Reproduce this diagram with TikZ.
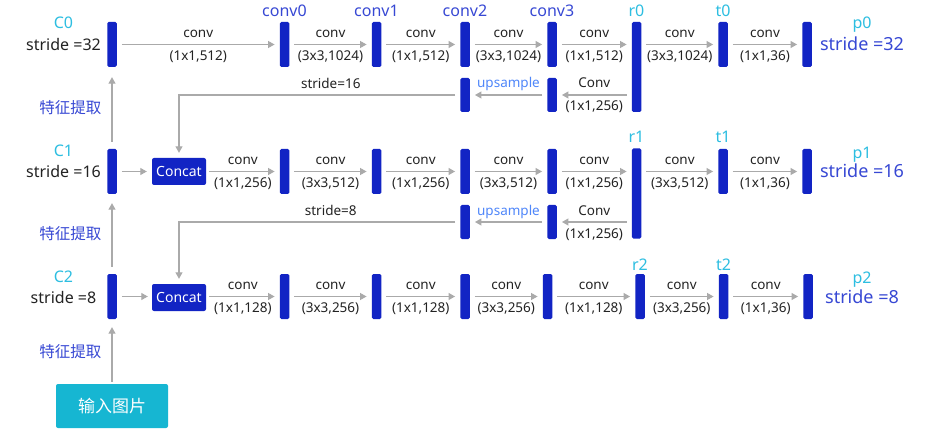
\documentclass[tikz,border=0pt]{standalone}
\usepackage{fontspec}
\setmainfont{Noto Sans}
\newfontfamily\cjk{Noto Sans CJK SC}
\usetikzlibrary{arrows.meta,calc}
\definecolor{barblue}{RGB}{18,36,196}
\definecolor{cyantxt}{RGB}{45,190,225}
\definecolor{nameblue}{RGB}{55,72,212}
\definecolor{upblue}{RGB}{80,135,250}
\definecolor{inputcyan}{RGB}{22,182,210}
\definecolor{arrgray}{RGB}{170,170,170}
\definecolor{txtblack}{RGB}{35,35,35}
\tikzset{
  bar/.style={rectangle, fill=barblue, draw=none, rounded corners=1.5pt, minimum width=9.5pt, minimum height=45pt, inner sep=0pt},
  tallbar/.style={bar, minimum height=90pt},
  upbar/.style={bar, minimum height=34pt},
  concatbox/.style={rectangle, fill=barblue, rounded corners=2pt, minimum width=54pt, minimum height=27pt, inner sep=0pt, text=white, font=\fontsize{14}{16}\selectfont},
  inputbox/.style={rectangle, fill=inputcyan, rounded corners=2pt, minimum width=112pt, minimum height=44pt, inner sep=0pt, text=white, font=\cjk\fontsize{17}{19}\selectfont},
  arr/.style={draw=arrgray, line width=1.1pt, -{Triangle[length=6.5pt,width=7pt]}, shorten <=5pt, shorten >=5pt},
  toplbl/.style={midway, anchor=base, yshift=7pt, inner sep=0pt, text=txtblack, font=\fontsize{13.5}{16}\selectfont},
  botlbl/.style={midway, anchor=base, yshift=-16pt, inner sep=0pt, text=txtblack, font=\fontsize{13.5}{16}\selectfont},
  namelbl/.style={anchor=base, inner sep=0pt, text=nameblue, font=\fontsize{16}{18}\selectfont},
  cyanlbl/.style={anchor=base, inner sep=0pt, text=cyantxt, font=\fontsize{16}{18}\selectfont},
  lstride/.style={anchor=base, inner sep=0pt, text=txtblack, font=\fontsize{16}{18}\selectfont},
  rstride/.style={anchor=base, inner sep=0pt, text=nameblue, font=\fontsize{18}{20}\selectfont},
  featlbl/.style={midway, left=10pt, inner sep=0pt, text=nameblue, font=\cjk\fontsize{15.5}{17}\selectfont}
}
\begin{document}
\begin{tikzpicture}[x=1pt,y=-1pt]
\fill[white] (0,0) rectangle (933,438);
\useasboundingbox (0,0) rectangle (933,438);

% ---------- row 0 ----------
\node[bar] (c0bar) at (112,44.5) {};
\node[bar] (conv0) at (284.5,44.5) {};
\node[bar] (conv1) at (376.5,44.5) {};
\node[bar] (conv2) at (465,44.5) {};
\node[bar] (conv3) at (552,44.5) {};
\node[tallbar] (r0) at (636.5,67) {};
\node[bar] (t0) at (723,44.5) {};
\node[bar] (p0) at (807,44.5) {};
\node[upbar] (u0a) at (465,95) {};
\node[upbar] (u0b) at (552,95) {};

\node[cyanlbl] (lc0) at (63.5,29) {C0};
\node[lstride] (ls0) at (63.5,50.5) {stride =32};
\node[namelbl, yshift=5pt] (nconv0) at (conv0.north) {conv0};
\node[namelbl, yshift=5pt] (nconv1) at (conv1.north) {conv1};
\node[namelbl, yshift=5pt] (nconv2) at (conv2.north) {conv2};
\node[namelbl, yshift=5pt] (nconv3) at (conv3.north) {conv3};
\node[cyanlbl, yshift=5pt] (nr0) at (r0.north) {r0};
\node[cyanlbl, yshift=5pt] (nt0) at (t0.north) {t0};
\node[cyanlbl] (np0) at (862,29) {p0};
\node[rstride] (rs0) at (862,51) {stride =32};

\draw[arr] (c0bar) -- (conv0) node[toplbl]{conv} node[botlbl]{(1x1,512)};
\draw[arr] (conv0) -- (conv1) node[toplbl]{conv} node[botlbl]{(3x3,1024)};
\draw[arr] (conv1) -- (conv2) node[toplbl]{conv} node[botlbl]{(1x1,512)};
\draw[arr] (conv2) -- (conv3) node[toplbl]{conv} node[botlbl]{(3x3,1024)};
\draw[arr] (conv3) -- (conv3 -| r0.west) node[toplbl]{conv} node[botlbl]{(1x1,512)};
\draw[arr] (r0.east |- t0) -- (t0) node[toplbl]{conv} node[botlbl]{(3x3,1024)};
\draw[arr] (t0) -- (p0) node[toplbl]{conv} node[botlbl]{(1x1,36)};
\draw[arr] (u0b -| r0.west) -- (u0b) node[toplbl]{Conv} node[botlbl]{(1x1,256)};
\draw[arr] (u0b) -- (u0a) node[toplbl, text=upblue]{upsample};

% ---------- row 1 ----------
\node[bar] (c1bar) at (112,171.5) {};
\node[concatbox] (concat1) at (179,171.5) {Concat};
\node[bar] (b11) at (284.5,171.5) {};
\node[bar] (b12) at (376.5,171.5) {};
\node[bar] (b13) at (465,171.5) {};
\node[bar] (b14) at (552,171.5) {};
\node[tallbar] (r1) at (636.5,193.5) {};
\node[bar] (t1) at (723,171.5) {};
\node[bar] (p1) at (807,171.5) {};
\node[upbar] (u1a) at (465,222) {};
\node[upbar] (u1b) at (552,222) {};

\node[cyanlbl] (lc1) at (63.5,157) {C1};
\node[lstride] (ls1) at (63.5,177.5) {stride =16};
\node[cyanlbl, yshift=6pt] (nr1) at (r1.north) {r1};
\node[cyanlbl, yshift=6pt] (nt1) at (t1.north) {t1};
\node[cyanlbl] (np1) at (862,158.5) {p1};
\node[rstride] (rs1) at (862,178) {stride =16};

\draw[arr] (u0a) -| (concat1) node[pos=0.23, anchor=base, yshift=6pt, inner sep=0pt, text=txtblack, font=\fontsize{13.5}{16}\selectfont]{stride=16};
\draw[arr] (c1bar) -- (concat1);
\draw[arr, shorten <=3pt] (concat1) -- (b11) node[toplbl]{conv} node[botlbl]{(1x1,256)};
\draw[arr] (b11) -- (b12) node[toplbl]{conv} node[botlbl]{(3x3,512)};
\draw[arr] (b12) -- (b13) node[toplbl]{conv} node[botlbl]{(1x1,256)};
\draw[arr] (b13) -- (b14) node[toplbl]{conv} node[botlbl]{(3x3,512)};
\draw[arr] (b14) -- (b14 -| r1.west) node[toplbl]{conv} node[botlbl]{(1x1,256)};
\draw[arr] (r1.east |- t1) -- (t1) node[toplbl]{conv} node[botlbl]{(3x3,512)};
\draw[arr] (t1) -- (p1) node[toplbl]{conv} node[botlbl]{(1x1,36)};
\draw[arr] (u1b -| r1.west) -- (u1b) node[toplbl]{Conv} node[botlbl]{(1x1,256)};
\draw[arr] (u1b) -- (u1a) node[toplbl, text=upblue]{upsample};

% ---------- row 2 ----------
\node[bar] (c2bar) at (112,296.5) {};
\node[concatbox] (concat2) at (179,297.5) {Concat};
\node[bar] (b21) at (284.5,296.5) {};
\node[bar] (b22) at (376.5,296.5) {};
\node[bar] (b23) at (465,296.5) {};
\node[bar] (b24) at (547.5,296.5) {};
\node[bar] (r2) at (640,296.5) {};
\node[bar] (t2) at (723.5,296.5) {};
\node[bar] (p2) at (808,296.5) {};

\node[cyanlbl] (lc2) at (63.5,282.5) {C2};
\node[lstride] (ls2) at (63.5,303) {stride =8};
\node[cyanlbl, yshift=3pt] (nr2) at (r2.north) {r2};
\node[cyanlbl, yshift=3pt] (nt2) at (t2.north) {t2};
\node[cyanlbl] (np2) at (862,283) {p2};
\node[rstride] (rs2) at (862,303) {stride =8};

\draw[arr] (u1a) -| (concat2) node[pos=0.23, anchor=base, yshift=6pt, inner sep=0pt, text=txtblack, font=\fontsize{13.5}{16}\selectfont]{stride=8};
\draw[arr, shorten >=4pt] (c2bar) -- (c2bar -| concat2.west);
\draw[arr, shorten <=3pt] (concat2.east |- b21) -- (b21) node[toplbl]{conv} node[botlbl]{(1x1,128)};
\draw[arr] (b21) -- (b22) node[toplbl]{conv} node[botlbl]{(3x3,256)};
\draw[arr] (b22) -- (b23) node[toplbl]{conv} node[botlbl]{(1x1,128)};
\draw[arr] (b23) -- (b24) node[toplbl]{conv} node[botlbl]{(3x3,256)};
\draw[arr] (b24) -- (r2) node[toplbl]{conv} node[botlbl]{(1x1,128)};
\draw[arr] (r2) -- (t2) node[toplbl]{conv} node[botlbl]{(3x3,256)};
\draw[arr] (t2) -- (p2) node[toplbl]{conv} node[botlbl]{(1x1,36)};

% ---------- input and vertical arrows ----------
\node[inputbox] (img) at (112,406) {输入图片};
\draw[arr, shorten <=2pt, shorten >=8pt] (img) -- (c2bar) node[featlbl]{特征提取};
\draw[arr, shorten <=7pt, shorten >=9pt] (c2bar) -- (c1bar) node[featlbl]{特征提取};
\draw[arr, shorten <=7pt, shorten >=10pt] (c1bar) -- (c0bar) node[featlbl]{特征提取};
\end{tikzpicture}
\end{document}
